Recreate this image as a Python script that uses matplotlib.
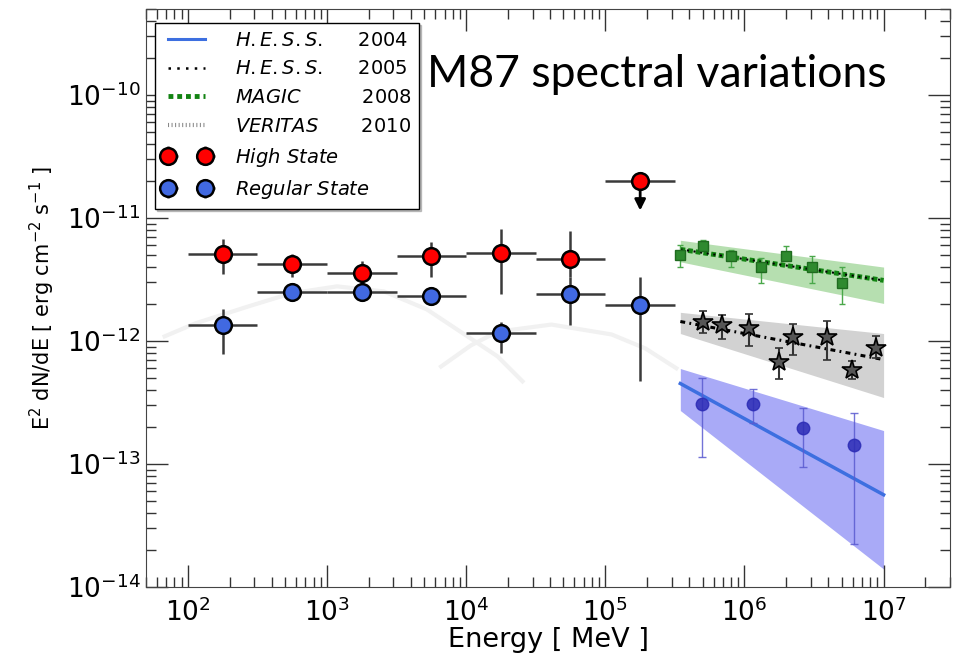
import matplotlib
matplotlib.use("Agg")
import matplotlib.pyplot as plt
from matplotlib.lines import Line2D
from matplotlib.ticker import NullFormatter

# Fermi-LAT half-decade bins [MeV]
lat_E = [1.78e2, 5.62e2, 1.78e3, 5.62e3, 1.78e4, 5.62e4, 1.78e5]
lat_E_lo = [1.0e2, 3.16e2, 1.0e3, 3.16e3, 1.0e4, 3.16e4, 1.0e5]
lat_E_hi = [3.16e2, 1.0e3, 3.16e3, 1.0e4, 3.16e4, 1.0e5, 3.16e5]

# high state (last bin is an upper limit)
high_flux = [5.1e-12, 4.2e-12, 3.6e-12, 4.9e-12, 5.2e-12, 4.6e-12]
high_hi = [6.7e-12, 5.1e-12, 4.5e-12, 6.4e-12, 8.1e-12, 7.8e-12]
high_lo = [3.5e-12, 3.3e-12, 3.0e-12, 3.3e-12, 2.4e-12, 3.3e-12]
high_ul = 2.0e-11
high_ul_tip = 1.15e-11

# regular state
reg_flux = [1.34e-12, 2.5e-12, 2.48e-12, 2.3e-12, 1.16e-12, 2.4e-12, 1.97e-12]
reg_hi = [1.81e-12, 2.7e-12, 2.68e-12, 2.48e-12, 1.42e-12, 3.3e-12, 3.3e-12]
reg_lo = [7.9e-13, 2.3e-12, 2.28e-12, 2.12e-12, 8.0e-13, 1.36e-12, 4.7e-13]

# faint log-parabola model curves
arc1_E = [68, 113, 272, 551, 1.18e3, 2.56e3, 5.2e3, 9.3e3, 1.68e4, 2.54e4]
arc1_flux = [1.09e-12, 1.39e-12, 1.91e-12, 2.44e-12, 2.78e-12, 2.53e-12,
             1.81e-12, 1.17e-12, 7.5e-13, 4.7e-13]
arc2_E = [6.6e3, 1.08e4, 1.68e4, 4.1e4, 1.11e5, 1.94e5, 3.24e5]
arc2_flux = [6.2e-13, 9.2e-13, 1.19e-12, 1.36e-12, 1.13e-12, 8.7e-13, 6.0e-13]

# TeV butterflies: energy range, band edges and fit at both ends
band_E = [3.46e5, 1.0e7]
magic_band_hi = [6.59e-12, 3.99e-12]
magic_band_lo = [4.4e-12, 2.02e-12]
magic_fit = [5.56e-12, 3.11e-12]
hess05_band_hi = [1.71e-12, 1.15e-12]
hess05_band_lo = [1.15e-12, 3.47e-13]
hess05_fit = [1.44e-12, 7.06e-13]
hess04_band_hi = [5.97e-13, 1.87e-13]
hess04_band_lo = [2.72e-13, 1.40e-14]
hess04_fit = [4.51e-13, 5.62e-14]

# MAGIC 2008 points
magic_E = [3.46e5, 5.06e5, 8.0e5, 1.32e6, 2.0e6, 3.07e6, 5.04e6]
magic_flux = [4.97e-12, 5.9e-12, 4.88e-12, 3.97e-12, 4.88e-12, 3.97e-12, 2.94e-12]
magic_hi = [6.0e-12, 6.59e-12, 5.46e-12, 4.70e-12, 5.89e-12, 4.88e-12, 3.97e-12]
magic_lo = [3.97e-12, 5.46e-12, 3.97e-12, 2.94e-12, 4.53e-12, 2.94e-12, 1.98e-12]

# H.E.S.S. 2005 points
hess05_E = [5.06e5, 6.9e5, 1.08e6, 1.77e6, 2.24e6, 3.93e6, 5.9e6, 8.8e6]
hess05_flux = [1.43e-12, 1.35e-12, 1.28e-12, 6.7e-13, 1.08e-12, 1.08e-12, 5.8e-13, 8.8e-13]
hess05_hi = [1.76e-12, 1.63e-12, 1.66e-12, 8.8e-13, 1.38e-12, 1.46e-12, 6.9e-13, 1.10e-12]
hess05_lo = [1.16e-12, 1.04e-12, 9.1e-13, 4.9e-13, 7.7e-13, 7.0e-13, 4.9e-13, 7.3e-13]

# H.E.S.S. 2004 points
hess04_E = [4.98e5, 1.16e6, 2.63e6, 6.1e6]
hess04_flux = [3.06e-13, 3.1e-13, 1.95e-13, 1.44e-13]
hess04_hi = [5.0e-13, 4.06e-13, 2.84e-13, 2.6e-13]
hess04_lo = [1.15e-13, 2.14e-13, 9.5e-14, 2.25e-14]


def yerr(v, lo, hi):
    return [[a - b for a, b in zip(v, lo)], [b - a for a, b in zip(v, hi)]]


fig = plt.figure(figsize=(9.55, 6.56), dpi=100)
ax = fig.add_axes([146 / 955, 1 - 587 / 656, 804 / 955, 578 / 656])
ax.set_xscale("log")
ax.set_yscale("log")

ax.plot(arc1_E, arc1_flux, color="#f1f1f1", lw=3, zorder=0.5, solid_joinstyle="round")
ax.plot(arc2_E, arc2_flux, color="#f1f1f1", lw=3, zorder=0.5, solid_joinstyle="round")

# bands
ax.fill_between(band_E, magic_band_lo, magic_band_hi, color="#b6dfb0", lw=0, zorder=1)
ax.fill_between(band_E, hess05_band_lo, hess05_band_hi, color="#d2d2d2", lw=0, zorder=1)
ax.fill_between(band_E, hess04_band_lo, hess04_band_hi, color="#a9aaf7", lw=0, zorder=1)

ax.plot(band_E, magic_fit, color="#128312", lw=3.5, ls=(0, (1.0, 0.6)), zorder=3)
ax.plot(band_E, magic_fit, color="k", lw=1.5, ls=(0, (1.0, 2.2)), zorder=3.1)
ax.plot(band_E, hess05_fit, color="k", lw=2.2, ls=(0, (1.6, 1.4, 0.6, 1.4)), zorder=3)
ax.plot(band_E, hess04_fit, color="#3d6fe0", lw=2.5, zorder=3)

ax.errorbar(magic_E, magic_flux, yerr=yerr(magic_flux, magic_lo, magic_hi),
            fmt="s", ms=7, mfc="#2f8a2f", mec="#1f6b1f", ecolor="#4aa84a",
            elinewidth=1, capsize=2.5, zorder=4)
ax.errorbar(hess05_E, hess05_flux, yerr=yerr(hess05_flux, hess05_lo, hess05_hi),
            fmt="*", ms=15, mfc="#555555", mec="k", mew=1.2, ecolor="#333333",
            elinewidth=1.5, capsize=3, zorder=4)
ax.errorbar(hess04_E, hess04_flux, yerr=yerr(hess04_flux, hess04_lo, hess04_hi),
            fmt="o", ms=9, mfc="#2b2bb5", mec="#2b2bb5", alpha=0.85,
            ecolor="#5a5ad0", elinewidth=1, capsize=3, zorder=4)

# Fermi-LAT states
xe = [[c - a for c, a in zip(lat_E, lat_E_lo)], [b - c for c, b in zip(lat_E, lat_E_hi)]]
eb_kw = dict(fmt="o", ms=12, mec="k", mew=1.8, ecolor="#3a3a3a", elinewidth=1.8,
             capsize=0, zorder=6)
ax.annotate("", xy=(lat_E[6], high_ul_tip), xytext=(lat_E[6], high_ul),
            arrowprops=dict(arrowstyle="-|>", color="k", lw=2, mutation_scale=16,
                            shrinkA=0, shrinkB=0), zorder=5)
high = ax.errorbar(lat_E[:6], high_flux, xerr=[xe[0][:6], xe[1][:6]],
                   yerr=yerr(high_flux, high_lo, high_hi), mfc="#ff0000", **eb_kw)
ax.errorbar(lat_E[6:], [high_ul], xerr=[xe[0][6:], xe[1][6:]], mfc="#ff0000", **eb_kw)
reg = ax.errorbar(lat_E, reg_flux, xerr=xe, yerr=yerr(reg_flux, reg_lo, reg_hi),
                  mfc="#4169e1", **eb_kw)

ax.set_xlim(50, 3e7)
ax.set_ylim(1e-14, 5e-10)
ax.xaxis.set_minor_formatter(NullFormatter())
ax.yaxis.set_minor_formatter(NullFormatter())

ax.tick_params(which="both", direction="in", top=True, right=True,
               colors="#333333", labelcolor="k", labelsize=19)
ax.tick_params(which="major", length=16, width=1)
ax.tick_params(which="minor", length=7, width=1)
ax.tick_params(axis="x", pad=8)
ax.tick_params(axis="y", pad=4)
for s in ax.spines.values():
    s.set_color("#444444")

ax.set_xlabel("Energy [ MeV ]", fontsize=19.5)
ax.set_ylabel(r"E$^{2}$ dN/dE [ erg cm$^{-2}$ s$^{-1}$ ]", fontsize=15)
ax.xaxis.set_label_coords(0.5, -0.092)
ax.xaxis.label.set_va("center")
ax.yaxis.set_label_coords(-0.129, 0.5)
ax.yaxis.label.set_va("center")

handles = [
    Line2D([], [], color="#3d6fe0", lw=2.2),
    Line2D([], [], color="k", lw=1.8, ls=(0, (1, 2.5))),
    Line2D([], [], color="#128312", lw=3.5, ls=(0, (1.0, 0.8))),
    Line2D([], [], color="#888888", lw=3, ls=(0, (0.25, 0.6))),
    high,
    reg,
]
labels = [
    r"$H.E.S.S.$" + "     2004",
    r"$H.E.S.S.$" + "     2005",
    r"$MAGIC$" + "          2008",
    r"$VERITAS$" + "       2010",
    r"$High\ State$",
    r"$Regular\ State$",
]
leg = ax.legend(handles, labels, loc="upper left", bbox_to_anchor=(0.011, 0.976),
                borderaxespad=0, fontsize=14, numpoints=2, handlelength=2.5,
                handletextpad=1.2, labelspacing=0.5, fancybox=False,
                shadow={"ox": 1.5, "oy": -1.5, "color": "0.55"},
                framealpha=1, edgecolor="k")
leg.get_frame().set_linewidth(1)

fig.text(427 / 955, 1 - 87 / 656, "M87 spectral variations", fontsize=32,
         family="Lato", ha="left", va="baseline")

fig.savefig("out.png", dpi=100)
